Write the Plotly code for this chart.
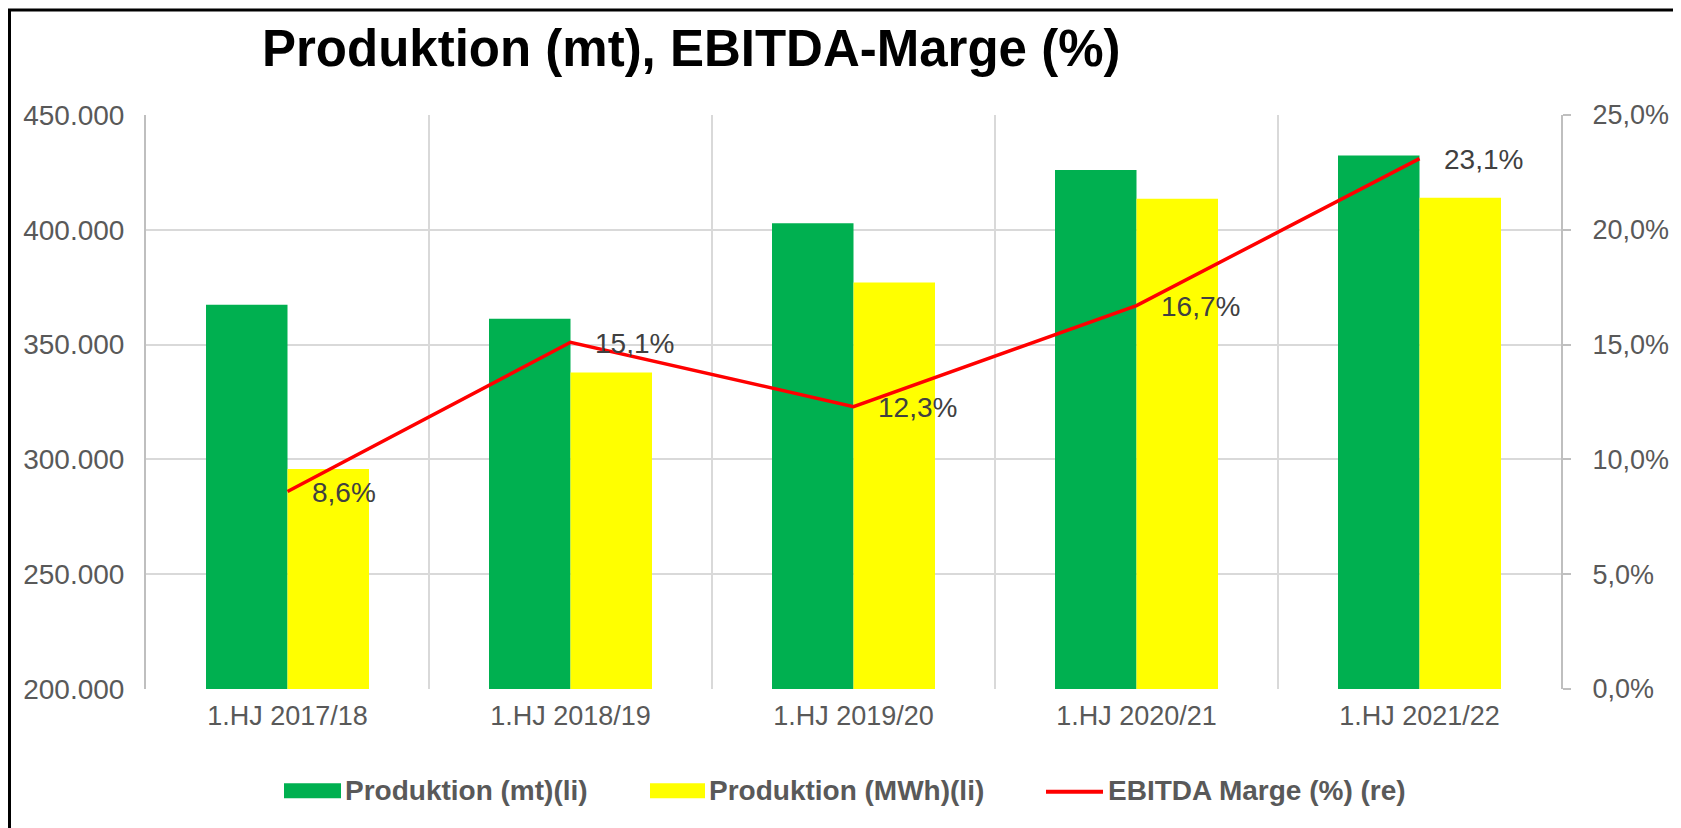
import plotly.graph_objects as go

# ---- data ----
categories = ["1.HJ 2017/18", "1.HJ 2018/19", "1.HJ 2019/20", "1.HJ 2020/21", "1.HJ 2021/22"]
prod_mt = [367400, 361300, 402900, 426000, 432400]
prod_mwh = [295800, 337900, 377000, 413500, 414000]
ebitda_margin = [0.086, 0.151, 0.123, 0.167, 0.231]
series_names = ["Produktion (mt)(li)", "Produktion (MWh)(li)", "EBITDA Marge (%) (re)"]
title_text = "Produktion (mt), EBITDA-Marge (%)"

# ---- style ----
OFF = 8  # default HTML body margin: figure is placed at (8, 8) in the page
W, H = 1673, 820
# plot-area edges in page pixels
PL, PR, PT, PB = 146, 1561, 114.5, 688.7
GREEN, YELLOW, RED = "#00B050", "#FFFF00", "#FF0000"
GRID = "#D9D9D9"
AXIS = "#BFBFBF"
TXT = "#595959"
FONT = "Arial, Liberation Sans, sans-serif"


def px_x(x):
    return (x - PL) / (PR - PL)


def px_y(y):
    return (PB - y) / (PB - PT)


fig = go.Figure()
fig.add_trace(go.Bar(x=categories, y=prod_mt, name=series_names[0],
                     marker=dict(color=GREEN, line=dict(width=0)), yaxis="y"))
fig.add_trace(go.Bar(x=categories, y=prod_mwh, name=series_names[1],
                     marker=dict(color=YELLOW, line=dict(width=0)), yaxis="y"))
fig.add_trace(go.Scatter(x=categories, y=ebitda_margin, name=series_names[2],
                         mode="lines", line=dict(color=RED, width=3.5), yaxis="y2"))

annotations = []
for c, v in zip(categories, ebitda_margin):
    annotations.append(dict(
        x=c, y=v, xref="x", yref="y2", xanchor="left", yanchor="middle",
        xshift=22, yshift=-1,
        text=f"{v * 100:.1f}%".replace(".", ","), showarrow=False,
        font=dict(family=FONT, size=28, color="#404040")))

# custom legend (page pixel positions)
legend_items = [
    (series_names[0], "rect", GREEN, 284, 341, 343),
    (series_names[1], "rect", YELLOW, 650, 705, 707),
    (series_names[2], "line", RED, 1046, 1103, 1106),
]
shapes = []
LEG_Y = 790.5
for name, kind, color, x0, x1, xt in legend_items:
    if kind == "rect":
        shapes.append(dict(type="rect", xref="paper", yref="paper",
                           x0=px_x(x0), x1=px_x(x1), y0=px_y(LEG_Y - 7.5), y1=px_y(LEG_Y + 7.5),
                           fillcolor=color, line=dict(width=0)))
    else:
        shapes.append(dict(type="line", xref="paper", yref="paper",
                           x0=px_x(x0), x1=px_x(x1), y0=px_y(LEG_Y + 1), y1=px_y(LEG_Y + 1),
                           line=dict(color=color, width=4)))
    annotations.append(dict(x=px_x(xt), y=px_y(LEG_Y), xref="paper", yref="paper",
                            xanchor="left", yanchor="middle", text=f"<b>{name}</b>",
                            showarrow=False,
                            font=dict(family=FONT, size=28, color=TXT)))

# outer border
shapes.append(dict(type="rect", xref="paper", yref="paper",
                   x0=px_x(OFF + 1.5), x1=px_x(1676.5), y0=px_y(900), y1=px_y(OFF + 1.5),
                   line=dict(color="black", width=3), fillcolor="rgba(0,0,0,0)", layer="above"))

# title
annotations.append(dict(x=px_x(691), y=px_y(48), xref="paper", yref="paper",
                        xanchor="center", yanchor="middle", text=f"<b>{title_text}</b>",
                        showarrow=False, font=dict(family=FONT, size=51, color="black")))

fig.update_layout(
    width=W, height=H,
    margin=dict(l=PL - OFF, r=W - (PR - OFF), t=PT - OFF, b=H - (PB - OFF), autoexpand=False),
    paper_bgcolor="white", plot_bgcolor="white",
    barmode="group", bargap=0.424, bargroupgap=0,
    showlegend=False,
    separators=",.",
    font=dict(family=FONT, color=TXT),
    xaxis=dict(type="category", range=[-0.5, 4.5], tickson="boundaries",
               showgrid=True, gridcolor=GRID, gridwidth=2,
               showline=False, ticks="", zeroline=False,
               tickfont=dict(family=FONT, size=27, color=TXT),
               ticklabelstandoff=8),
    yaxis=dict(range=[200000, 450000], dtick=50000, tickformat=",.0f",
               showgrid=True, gridcolor=GRID, gridwidth=2,
               showline=True, linecolor=AXIS, linewidth=2, mirror=False,
               ticks="", zeroline=False,
               tickfont=dict(family=FONT, size=28, color=TXT),
               ticklabelstandoff=14),
    yaxis2=dict(range=[0, 0.25], dtick=0.05, tickformat=".1%", overlaying="y", side="right",
                showgrid=False, showline=True, linecolor=AXIS, linewidth=2,
                ticks="outside", ticklen=8, tickcolor=AXIS, tickwidth=2,
                zeroline=False,
                tickfont=dict(family=FONT, size=27, color=TXT),
                ticklabelstandoff=16),
    annotations=annotations,
    shapes=shapes,
)

fig.write_html("out.html")
